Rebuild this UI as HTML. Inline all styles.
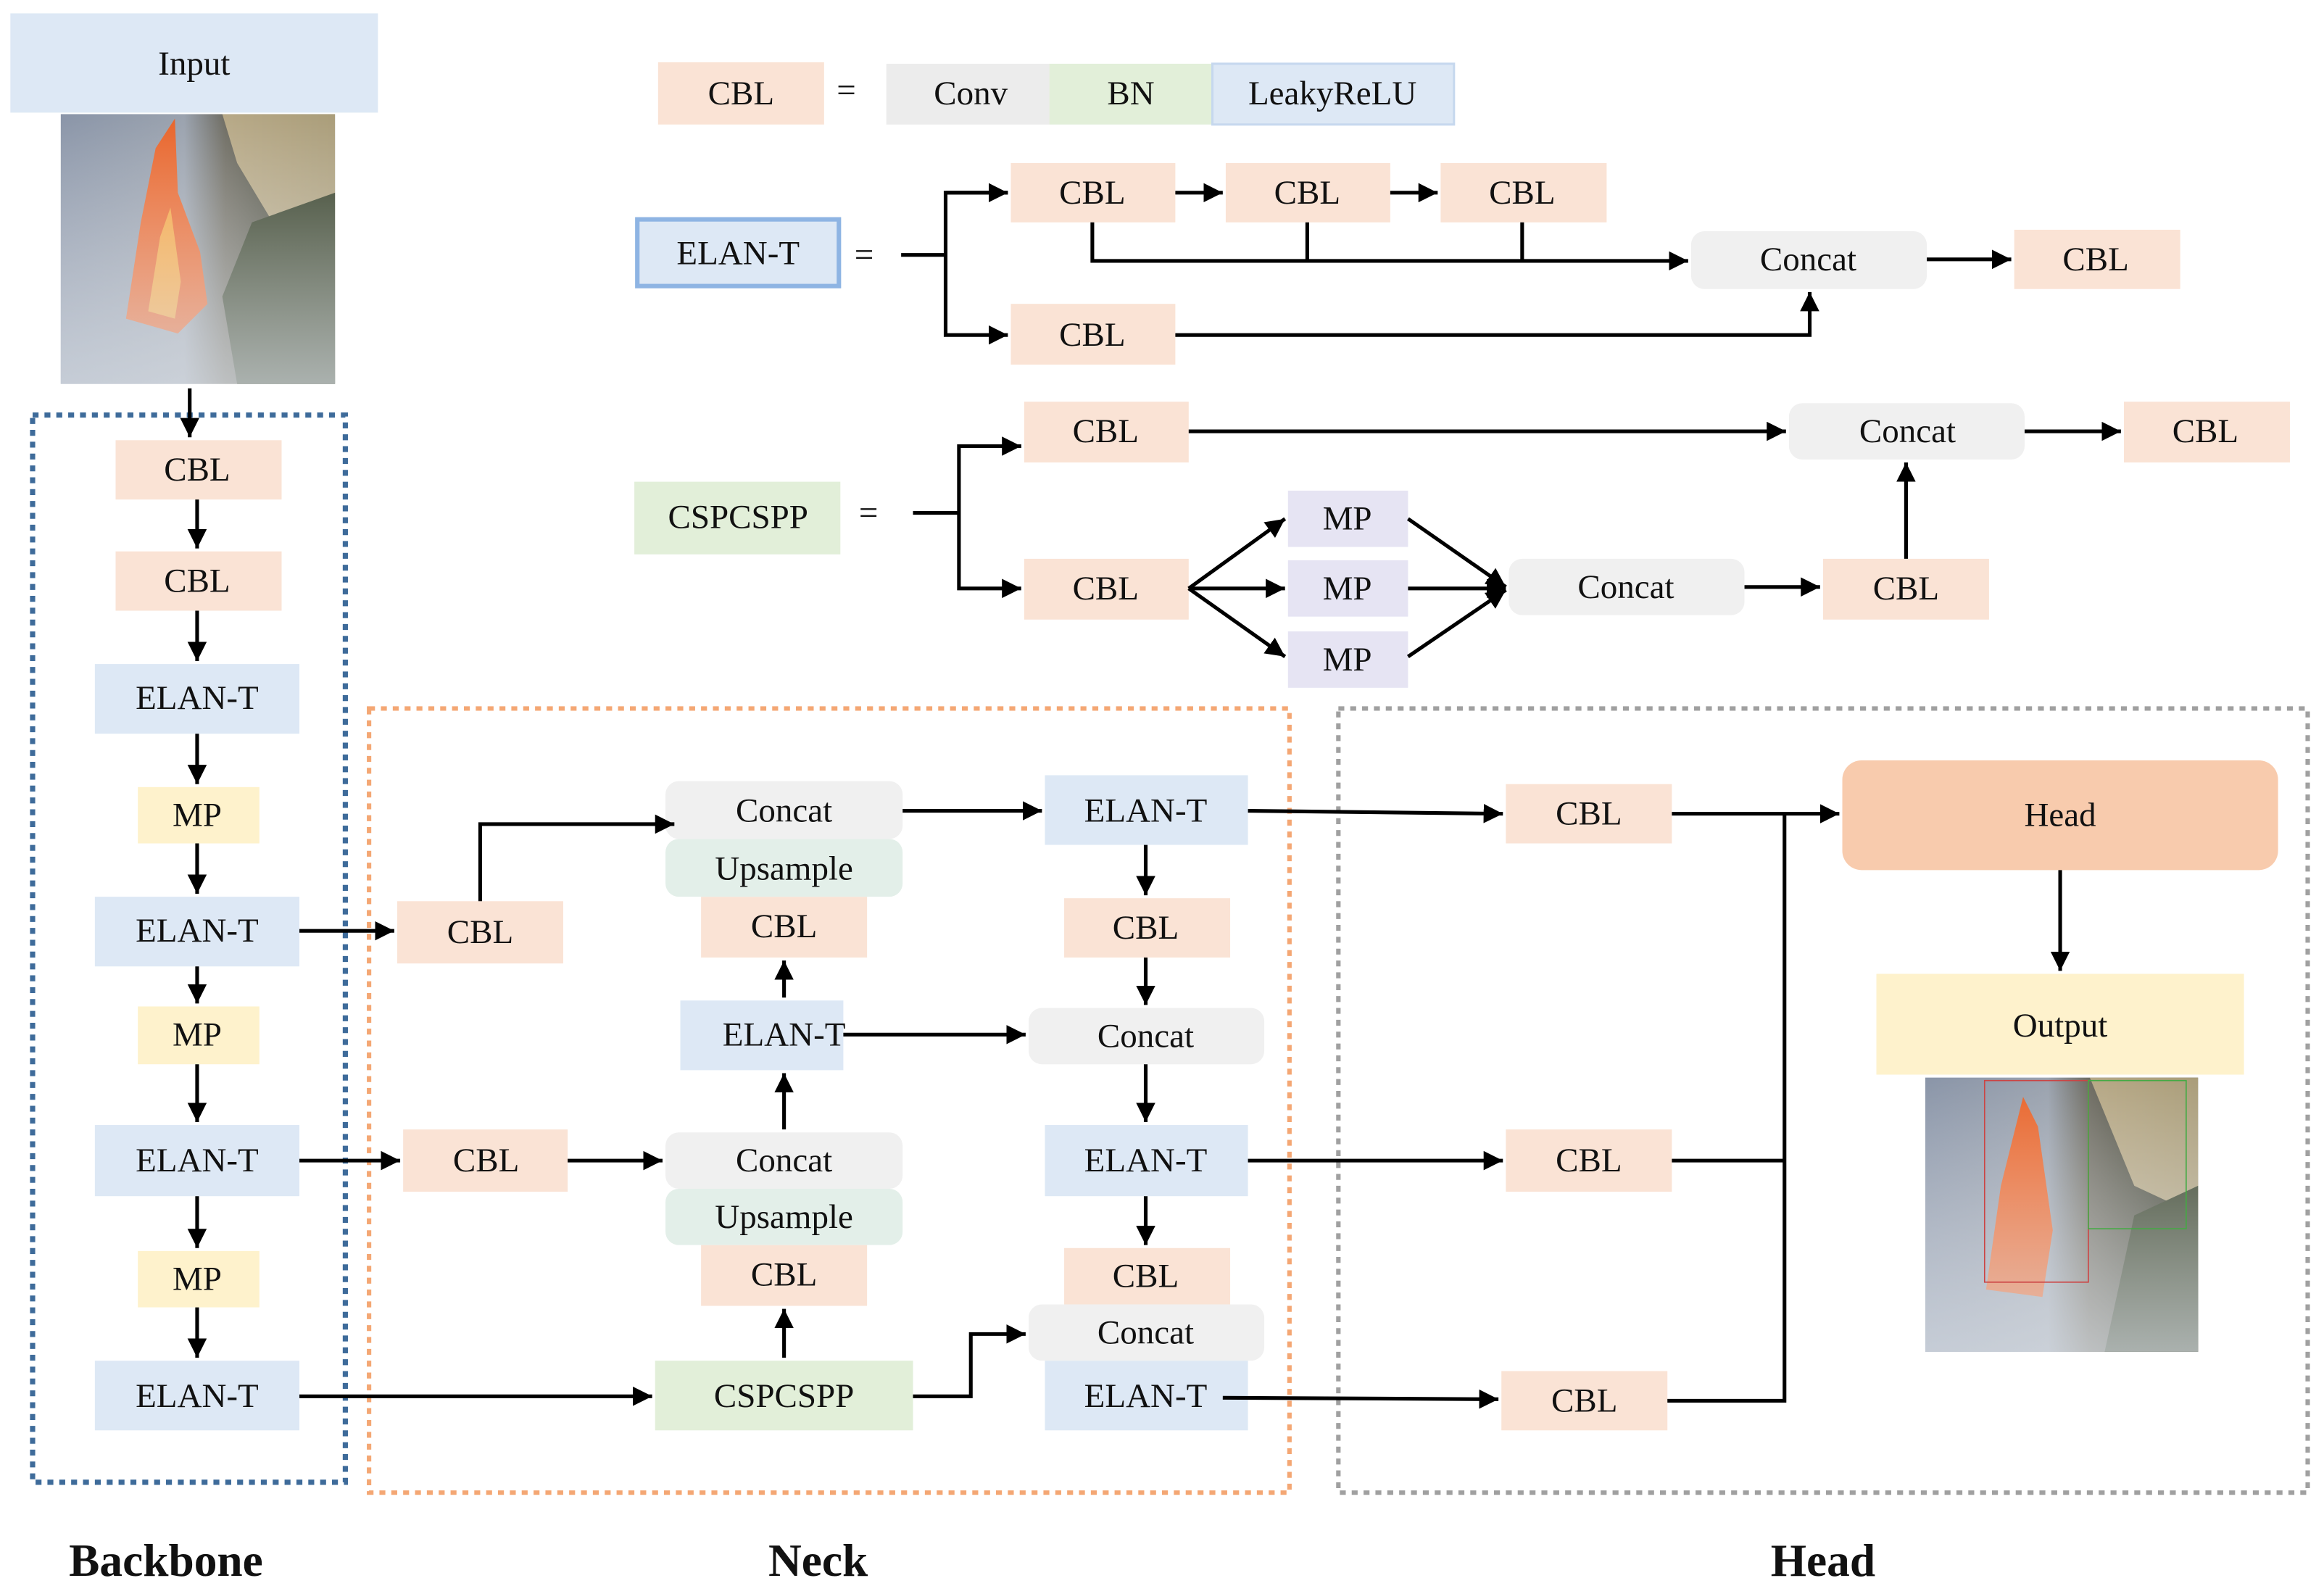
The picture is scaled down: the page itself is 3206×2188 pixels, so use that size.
<!DOCTYPE html>
<html><head><meta charset="utf-8"><style>
html,body{margin:0;padding:0;background:#fff;}
svg{display:block;}
text{font-family:"Liberation Serif",serif;font-size:23px;fill:#111;text-anchor:middle;dominant-baseline:central;}
.b{font-weight:bold;font-size:31px;}
</style></head><body>
<svg width="3206" height="2188" viewBox="0 0 1568 1070" preserveAspectRatio="none" xmlns="http://www.w3.org/2000/svg">
<defs>
<marker id="a" viewBox="0 0 10 10" refX="10" refY="5" markerWidth="13" markerHeight="13" markerUnits="userSpaceOnUse" orient="auto"><path d="M0,0L10,5L0,10z" fill="#000"/></marker>
<linearGradient id="img1" x1="0" y1="0" x2="1" y2="0"><stop offset="0" stop-color="#8a95a8"/><stop offset="0.45" stop-color="#9aa2ae"/><stop offset="0.6" stop-color="#6e6c62"/><stop offset="1" stop-color="#2e3322"/></linearGradient>
<linearGradient id="img1b" x1="0" y1="0" x2="0" y2="1"><stop offset="0" stop-color="#fff" stop-opacity="0"/><stop offset="1" stop-color="#dfe4ea" stop-opacity="0.7"/></linearGradient>
</defs>
<g fill="none" stroke="#000" stroke-width="2.5" marker-end="url(#a)"></g>

<!-- group frames -->
<rect x="22" y="280" width="211" height="720" fill="none" stroke="#3e6b9a" stroke-width="3.5" stroke-dasharray="4,4"/>
<rect x="249" y="478" width="621" height="529" fill="none" stroke="#f4a774" stroke-width="3" stroke-dasharray="4,4"/>
<rect x="903" y="478" width="654" height="529" fill="none" stroke="#a0a0a0" stroke-width="3" stroke-dasharray="4,4"/>

<!-- input -->
<rect x="7" y="9" width="248" height="67" fill="#dde8f5"/><text x="131" y="43">Input</text>
<g>
<rect x="41" y="77" width="185" height="182" fill="url(#img1)"/>
<path d="M150,77 L226,77 L226,200 L190,160 L160,110z" fill="#c9b890" opacity="0.8"/>
<path d="M85,215 L95,150 L105,100 L118,80 L120,130 L135,170 L140,205 L120,225z" fill="#e8642a"/>
<path d="M100,210 L108,160 L115,140 L122,190 L118,215z" fill="#f4a23c"/>
<path d="M170,150 L226,130 L226,259 L160,259 L150,200z" fill="#2f3a22"/>
<rect x="41" y="77" width="185" height="182" fill="url(#img1b)"/>
</g>

<!-- backbone -->
<g fill="#fae3d5"><rect x="78" y="297" width="112" height="40"/><rect x="78" y="372" width="112" height="40"/></g>
<g fill="#dde8f5"><rect x="64" y="448" width="138" height="47"/><rect x="64" y="605" width="138" height="47"/><rect x="64" y="759" width="138" height="48"/><rect x="64" y="918" width="138" height="47"/></g>
<g fill="#fef2cc"><rect x="93" y="531" width="82" height="38"/><rect x="93" y="679" width="82" height="39"/><rect x="93" y="844" width="82" height="38"/></g>
<text x="133" y="317">CBL</text><text x="133" y="392">CBL</text>
<text x="133" y="471">ELAN-T</text><text x="133" y="550">MP</text><text x="133" y="628">ELAN-T</text><text x="133" y="698">MP</text>
<text x="133" y="783">ELAN-T</text><text x="133" y="863">MP</text><text x="133" y="942">ELAN-T</text>

<!-- neck -->
<g fill="#fae3d5"><rect x="268" y="608" width="112" height="42"/><rect x="272" y="762" width="111" height="42"/>
<rect x="473" y="605" width="112" height="41"/><rect x="473" y="840" width="112" height="41"/>
<rect x="718" y="606" width="112" height="40"/><rect x="718" y="842" width="112" height="38"/></g>
<g fill="#f0f0f0"><rect x="449" y="527" width="160" height="39" rx="9"/><rect x="449" y="764" width="160" height="38" rx="9"/>
<rect x="694" y="680" width="159" height="38" rx="9"/><rect x="694" y="880" width="159" height="38" rx="9"/></g>
<g fill="#e3efe9"><rect x="449" y="566" width="160" height="39" rx="9"/><rect x="449" y="802" width="160" height="38" rx="9"/></g>
<g fill="#dde8f5"><rect x="459" y="675" width="110" height="47"/><rect x="705" y="523" width="137" height="47"/><rect x="705" y="759" width="137" height="48"/><rect x="705" y="918" width="137" height="47"/></g>
<rect x="442" y="918" width="174" height="47" fill="#e2efd9"/>
<text x="324" y="629">CBL</text><text x="328" y="783">CBL</text>
<text x="529" y="547">Concat</text><text x="529" y="586">Upsample</text><text x="529" y="625">CBL</text><text x="529" y="698">ELAN-T</text>
<text x="529" y="783">Concat</text><text x="529" y="821">Upsample</text><text x="529" y="860">CBL</text><text x="529" y="942">CSPCSPP</text>
<text x="773" y="547">ELAN-T</text><text x="773" y="626">CBL</text><text x="773" y="699">Concat</text><text x="773" y="783">ELAN-T</text>
<text x="773" y="861">CBL</text><text x="773" y="899">Concat</text><text x="773" y="942">ELAN-T</text>

<!-- head -->
<g fill="#fae3d5"><rect x="1016" y="529" width="112" height="40"/><rect x="1016" y="762" width="112" height="42"/><rect x="1013" y="925" width="112" height="40"/></g>
<text x="1072" y="549">CBL</text><text x="1072" y="783">CBL</text><text x="1069" y="945">CBL</text>
<rect x="1243" y="513" width="294" height="74" rx="13" fill="#f8cbad"/><text x="1390" y="550">Head</text>
<rect x="1266" y="657" width="248" height="68" fill="#fef2cc"/><text x="1390" y="692">Output</text>
<g>
<rect x="1299" y="727" width="184" height="185" fill="url(#img1)"/>
<path d="M1410,727 L1483,727 L1483,820 L1440,800z" fill="#c9b890" opacity="0.8"/>
<path d="M1340,870 L1350,800 L1365,740 L1375,760 L1385,830 L1378,875z" fill="#e8642a"/>
<path d="M1440,820 L1483,800 L1483,912 L1420,912z" fill="#2f3a22"/>
<rect x="1299" y="727" width="184" height="185" fill="url(#img1b)"/>
<rect x="1339" y="729" width="70" height="136" fill="none" stroke="#c44" stroke-width="0.8"/>
<rect x="1409" y="729" width="66" height="100" fill="none" stroke="#4a4" stroke-width="0.8"/>
</g>

<!-- legend -->
<rect x="444" y="42" width="112" height="42" fill="#fae3d5"/><text x="500" y="63">CBL</text>
<text x="571" y="61">=</text>
<rect x="598" y="43" width="110" height="41" fill="#ececec"/><rect x="708" y="43" width="110" height="41" fill="#e2efd9"/><rect x="818" y="43" width="163" height="41" fill="#dde8f5" stroke="#c6d8ee" stroke-width="1.5"/>
<text x="655" y="63">Conv</text><text x="763" y="63">BN</text><text x="899" y="63">LeakyReLU</text>

<rect x="430" y="148" width="136" height="45" fill="#dde8f5" stroke="#8eb4e3" stroke-width="3"/><text x="498" y="171">ELAN-T</text>
<text x="583" y="172">=</text>
<g fill="#fae3d5"><rect x="682" y="110" width="111" height="40"/><rect x="827" y="110" width="111" height="40"/><rect x="972" y="110" width="112" height="40"/><rect x="682" y="205" width="111" height="41"/><rect x="1359" y="155" width="112" height="40"/></g>
<rect x="1141" y="156" width="159" height="39" rx="9" fill="#f0f0f0"/>
<text x="737" y="130">CBL</text><text x="882" y="130">CBL</text><text x="1027" y="130">CBL</text><text x="737" y="226">CBL</text><text x="1220" y="175">Concat</text><text x="1414" y="175">CBL</text>

<rect x="428" y="325" width="139" height="49" fill="#e2efd9"/><text x="498" y="349">CSPCSPP</text>
<text x="586" y="346">=</text>
<g fill="#fae3d5"><rect x="691" y="271" width="111" height="41"/><rect x="691" y="377" width="111" height="41"/><rect x="1433" y="271" width="112" height="41"/><rect x="1230" y="377" width="112" height="41"/></g>
<g fill="#e6e4f3"><rect x="869" y="331" width="81" height="38"/><rect x="869" y="378" width="81" height="38"/><rect x="869" y="426" width="81" height="38"/></g>
<rect x="1207" y="272" width="159" height="38" rx="9" fill="#f0f0f0"/><rect x="1018" y="377" width="159" height="38" rx="9" fill="#f0f0f0"/>
<text x="746" y="291">CBL</text><text x="746" y="397">CBL</text><text x="1488" y="291">CBL</text><text x="1286" y="397">CBL</text>
<text x="909" y="350">MP</text><text x="909" y="397">MP</text><text x="909" y="445">MP</text>
<text x="1287" y="291">Concat</text><text x="1097" y="396">Concat</text>

<!-- connectors -->
<g fill="none" stroke="#000" stroke-width="2.5">
<line x1="128" y1="262" x2="128" y2="295" marker-end="url(#a)"/>
<line x1="133" y1="337" x2="133" y2="370" marker-end="url(#a)"/>
<line x1="133" y1="412" x2="133" y2="446" marker-end="url(#a)"/>
<line x1="133" y1="495" x2="133" y2="529" marker-end="url(#a)"/>
<line x1="133" y1="569" x2="133" y2="603" marker-end="url(#a)"/>
<line x1="133" y1="652" x2="133" y2="677" marker-end="url(#a)"/>
<line x1="133" y1="718" x2="133" y2="757" marker-end="url(#a)"/>
<line x1="133" y1="807" x2="133" y2="842" marker-end="url(#a)"/>
<line x1="133" y1="882" x2="133" y2="916" marker-end="url(#a)"/>

<line x1="202" y1="628" x2="266" y2="628" marker-end="url(#a)"/>
<line x1="202" y1="783" x2="270" y2="783" marker-end="url(#a)"/>
<line x1="383" y1="783" x2="447" y2="783" marker-end="url(#a)"/>
<polyline points="324,608 324,556 455,556" marker-end="url(#a)"/>
<line x1="202" y1="942" x2="440" y2="942" marker-end="url(#a)"/>
<line x1="529" y1="916" x2="529" y2="883" marker-end="url(#a)"/>
<line x1="529" y1="762" x2="529" y2="724" marker-end="url(#a)"/>
<line x1="529" y1="673" x2="529" y2="648" marker-end="url(#a)"/>
<polyline points="616,942 655,942 655,900 692,900" marker-end="url(#a)"/>
<line x1="609" y1="547" x2="703" y2="547" marker-end="url(#a)"/>
<line x1="569" y1="698" x2="692" y2="698" marker-end="url(#a)"/>
<line x1="773" y1="570" x2="773" y2="604" marker-end="url(#a)"/>
<line x1="773" y1="646" x2="773" y2="678" marker-end="url(#a)"/>
<line x1="773" y1="718" x2="773" y2="757" marker-end="url(#a)"/>
<line x1="773" y1="807" x2="773" y2="840" marker-end="url(#a)"/>

<line x1="842" y1="547" x2="1014" y2="549" marker-end="url(#a)"/>
<line x1="842" y1="783" x2="1014" y2="783" marker-end="url(#a)"/>
<line x1="825" y1="943" x2="1011" y2="944" marker-end="url(#a)"/>
<line x1="1128" y1="549" x2="1241" y2="549" marker-end="url(#a)"/>
<polyline points="1128,783 1204,783"/>
<polyline points="1125,945 1204,945 1204,549"/>
<line x1="1390" y1="587" x2="1390" y2="655" marker-end="url(#a)"/>

<line x1="793" y1="130" x2="825" y2="130" marker-end="url(#a)"/>
<line x1="938" y1="130" x2="970" y2="130" marker-end="url(#a)"/>
<polyline points="608,172 638,172"/>
<polyline points="680,130 638,130 638,226 680,226" marker-end="url(#a)"/>
<line x1="638" y1="130" x2="680" y2="130" marker-end="url(#a)"/>
<polyline points="737,150 737,176 1139,176" marker-end="url(#a)"/>
<line x1="882" y1="150" x2="882" y2="176"/>
<line x1="1027" y1="150" x2="1027" y2="176"/>
<polyline points="793,226 1221,226 1221,197" marker-end="url(#a)"/>
<line x1="1300" y1="175" x2="1357" y2="175" marker-end="url(#a)"/>

<polyline points="616,346 647,346"/>
<polyline points="689,301 647,301 647,397 689,397" marker-end="url(#a)"/>
<line x1="647" y1="301" x2="689" y2="301" marker-end="url(#a)"/>
<line x1="802" y1="291" x2="1205" y2="291" marker-end="url(#a)"/>
<line x1="1366" y1="291" x2="1431" y2="291" marker-end="url(#a)"/>
<line x1="802" y1="397" x2="867" y2="350" marker-end="url(#a)"/>
<line x1="802" y1="397" x2="867" y2="397" marker-end="url(#a)"/>
<line x1="802" y1="397" x2="867" y2="443" marker-end="url(#a)"/>
<line x1="950" y1="350" x2="1016" y2="396" marker-end="url(#a)"/>
<line x1="950" y1="397" x2="1016" y2="397" marker-end="url(#a)"/>
<line x1="950" y1="443" x2="1016" y2="398" marker-end="url(#a)"/>
<line x1="1177" y1="396" x2="1228" y2="396" marker-end="url(#a)"/>
<line x1="1286" y1="377" x2="1286" y2="312" marker-end="url(#a)"/>
</g>

<text class="b" x="112" y="1053">Backbone</text>
<text class="b" x="552" y="1053">Neck</text>
<text class="b" x="1230" y="1053">Head</text>
</svg>
</body></html>
